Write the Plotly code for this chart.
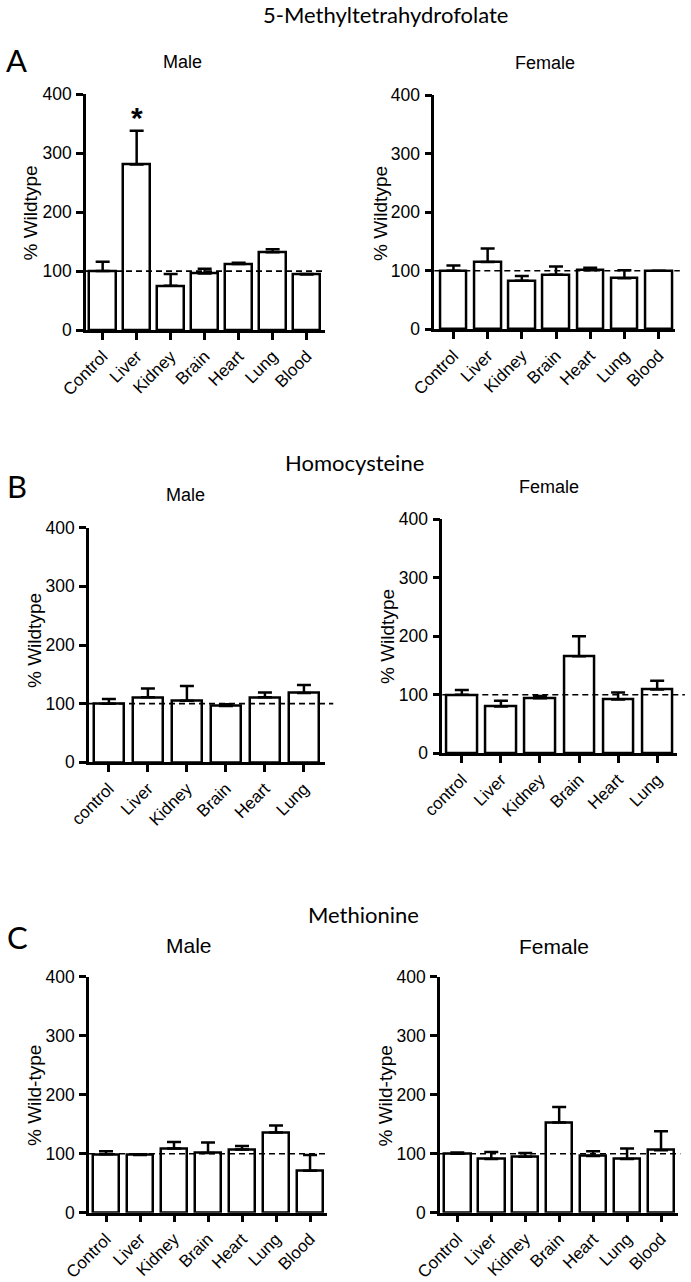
import plotly.graph_objects as go

W, H = 691, 1282

# ---------------- data ----------------
mthf_cats = ["Control", "Liver", "Kidney", "Brain", "Heart", "Lung", "Blood"]
mthf_male = [100, 281, 75, 96, 112, 132, 94]
mthf_male_err = [16, 57, 20, 8, 2, 5, 1]
mthf_female = [100, 115, 83, 93, 101, 87, 100]
mthf_female_err = [9, 23, 8, 14, 4, 14, 0]

hcy_cats = ["control", "Liver", "Kidney", "Brain", "Heart", "Lung"]
hcy_male = [100, 111, 105, 96, 111, 118]
hcy_male_err = [8, 15, 25, 3, 8, 14]
hcy_female = [100, 80, 94, 166, 92, 109]
hcy_female_err = [8, 10, 4, 34, 12, 15]

met_cats = ["Control", "Liver", "Kidney", "Brain", "Heart", "Lung", "Blood"]
met_male = [99, 98, 109, 101, 107, 136, 71]
met_male_err = [5, 1, 11, 18, 6, 12, 27]
met_female = [100, 91, 95, 153, 96, 91, 106]
met_female_err = [2, 12, 6, 26, 8, 18, 32]

y_ticks = [0, 100, 200, 300, 400]
ref_level = 100
star_value = 360

TICK_FONT = "Liberation Sans, Arial, sans-serif"
TITLE_FONT = "Lato, Open Sans, sans-serif"

# panel layout in pixels: (x_left, x_right, y_top, y_bottom)
panels = [
    dict(cats=mthf_cats, vals=mthf_male, err=mthf_male_err, px=(86, 325, 94.3, 330), xr=(-0.49, 6.54),
         ytitle="% Wildtype", ytx=(30, 213.5), sub="Male", sub_xy=(182, 62), sub_size=18, dash_end=1.0),
    dict(cats=mthf_cats, vals=mthf_female, err=mthf_female_err, px=(434.3, 675, 95, 329.3), xr=(-0.56, 6.48),
         ytitle="% Wildtype", ytx=(380.5, 213.5), sub="Female", sub_xy=(545, 63), sub_size=18, dash_end=1.02),
    dict(cats=hcy_cats, vals=hcy_male, err=hcy_male_err, px=(89, 325, 527.7, 762.3), xr=(-0.51, 5.54),
         ytitle="% Wildtype", ytx=(34, 641), sub="Male", sub_xy=(185, 495), sub_size=18, dash_end=1.035),
    dict(cats=hcy_cats, vals=hcy_female, err=hcy_female_err, px=(442.3, 676.7, 519.3, 753.3), xr=(-0.5, 5.5),
         ytitle="% Wildtype", ytx=(387.5, 636.5), sub="Female", sub_xy=(548.5, 486.5), sub_size=18, dash_end=1.035),
    dict(cats=met_cats, vals=met_male, err=met_male_err, px=(89, 326.7, 976.7, 1212.7), xr=(-0.5, 6.49),
         ytitle="% Wild-type", ytx=(34, 1096), sub="Male", sub_xy=(189, 945.5), sub_size=21, dash_end=1.0),
    dict(cats=met_cats, vals=met_female, err=met_female_err, px=(440, 678, 976.7, 1212.7), xr=(-0.51, 6.5),
         ytitle="% Wild-type", ytx=(384.5, 1096), sub="Female", sub_xy=(554, 946), sub_size=21, dash_end=1.01),
]

fig = go.Figure()
annotations = []
shapes = []


def px_x(v):
    return v / W


def px_y(v):
    return 1 - v / H


for i, p in enumerate(panels):
    n = i + 1
    xa = "x" if n == 1 else f"x{n}"
    ya = "y" if n == 1 else f"y{n}"
    xl, xr_, yt, yb = p["px"]
    fig.add_trace(go.Bar(
        x=list(range(len(p["cats"]))), y=p["vals"],
        xaxis=xa, yaxis=ya, width=0.78,
        marker=dict(color="white", line=dict(color="black", width=2.5)),
        error_y=dict(type="data", symmetric=False, array=p["err"],
                     arrayminus=[0] * len(p["err"]),
                     color="black", thickness=2.5, width=7),
        showlegend=False, hoverinfo="skip",
    ))
    xkey = "xaxis" if n == 1 else f"xaxis{n}"
    ykey = "yaxis" if n == 1 else f"yaxis{n}"
    fig.layout[xkey] = dict(
        domain=[px_x(xl), px_x(xr_)], anchor=ya, range=list(p["xr"]), automargin=False,
        tickmode="array", tickvals=list(range(len(p["cats"]))), ticktext=p["cats"],
        tickangle=-45, ticks="outside", ticklen=7, tickwidth=2.5, tickcolor="black",
        showline=True, linewidth=2.5, linecolor="black", showgrid=False, zeroline=False,
        tickfont=dict(family=TICK_FONT, size=17, color="black"), fixedrange=True,
    )
    fig.layout[ykey] = dict(
        domain=[px_y(yb), px_y(yt)], anchor=xa, range=[0, 400], automargin=False,
        tickmode="array", tickvals=y_ticks,
        ticks="outside", ticklen=7, tickwidth=2.5, tickcolor="black",
        showline=True, linewidth=2.5, linecolor="black", showgrid=False, zeroline=False,
        tickfont=dict(family=TICK_FONT, size=17.5, color="black"), fixedrange=True,
        ticklabelstandoff=1,
    )
    shapes.append(dict(type="line", xref=f"{xa} domain", yref=ya, x0=0, x1=p["dash_end"],
                       y0=ref_level, y1=ref_level,
                       line=dict(color="black", width=1.6, dash="6px,4px")))
    annotations.append(dict(text=p["ytitle"], xref="paper", yref="paper",
                            x=px_x(p["ytx"][0]), y=px_y(p["ytx"][1]), textangle=-90,
                            showarrow=False, xanchor="center", yanchor="middle",
                            font=dict(family=TICK_FONT, size=19, color="black")))
    annotations.append(dict(text=p["sub"], xref="paper", yref="paper",
                            x=px_x(p["sub_xy"][0]), y=px_y(p["sub_xy"][1]),
                            showarrow=False, xanchor="center", yanchor="middle",
                            font=dict(family=TICK_FONT, size=p["sub_size"], color="black")))

# significance star over Liver (male, 5-MTHF)
annotations.append(dict(text="<b>*</b>", xref="x", yref="y", x=1, y=star_value,
                        showarrow=False, xanchor="center", yanchor="middle",
                        font=dict(family=TICK_FONT, size=30, color="black")))

# section titles and panel letters
for txt, xy, size in [("5-Methyltetrahydrofolate", (385, 15), 22),
                      ("Homocysteine", (354.5, 463), 22),
                      ("Methionine", (363, 914.7), 22)]:
    annotations.append(dict(text=txt, xref="paper", yref="paper", x=px_x(xy[0]), y=px_y(xy[1]),
                            showarrow=False, xanchor="center", yanchor="middle",
                            font=dict(family=TITLE_FONT, size=size, color="black")))
for txt, xy in [("A", (16.5, 60.5)), ("B", (17, 486)), ("C", (17.5, 936.5))]:
    annotations.append(dict(text=txt, xref="paper", yref="paper", x=px_x(xy[0]), y=px_y(xy[1]),
                            showarrow=False, xanchor="center", yanchor="middle",
                            font=dict(family=TITLE_FONT, size=31, color="black")))

fig.update_layout(
    width=W, height=H, margin=dict(l=0, r=0, t=0, b=0, pad=0, autoexpand=False),
    paper_bgcolor="white", plot_bgcolor="white",
    annotations=annotations, shapes=shapes, bargap=0,
)

fig.write_html("out.html", config={"displayModeBar": False},
               post_script="document.body.style.margin='0';document.body.style.overflow='hidden';")
